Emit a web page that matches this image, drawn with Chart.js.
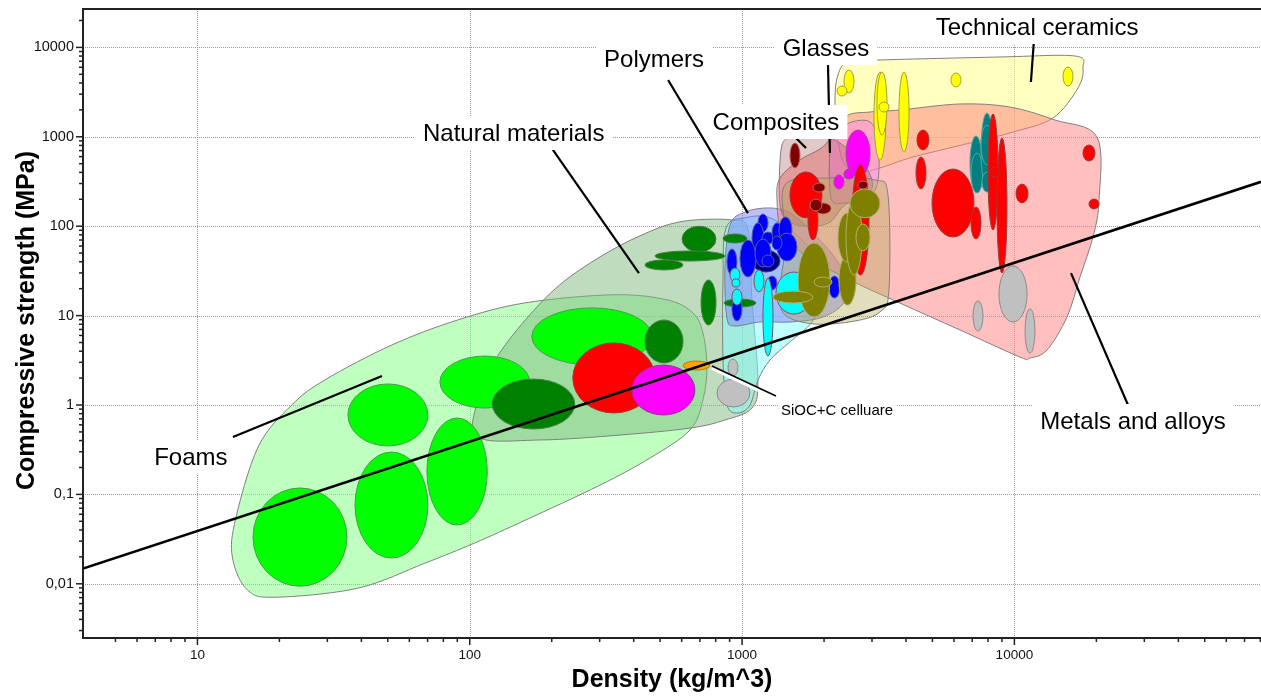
<!DOCTYPE html>
<html>
<head>
<meta charset="utf-8">
<script src="https://cdn.jsdelivr.net/npm/chart.js@4.4.1/dist/chart.umd.min.js"></script>
<style>
  html, body { margin: 0; padding: 0; background: #fff; }
  #wrap { position: relative; width: 1261px; height: 696px; }
</style>
</head>
<body>
<div id="wrap"><canvas id="chart"></canvas></div>
<script>
// ---- axis ticks ----
const xTickValues = [10, 100, 1000, 10000];
const xTickLabels = ['10', '100', '1000', '10000'];
const yTickValues = [0.01, 0.1, 1, 10, 100, 1000, 10000];
const yTickLabels = ['0,01', '0,1', '1', '10', '100', '1000', '10000'];
const xRange = [3.8, 80460];
const yRange = [0.002476, 26880];

// ---- guide line (strength proportional to density) ----
const guideDensity = [3.8, 80460];
const guideStrength = [0.0148, 314];

// ---- family envelopes: [density kg/m^3, compressive strength MPa] ----
const foamsEnvelope = [[13.5,0.0184],[13.7,0.0477],[16.7,0.339],[22.2,1.0],[29.4,1.91],[51.8,4.70],[90.5,8.95],[160,13.9],[336,17.1],[530,15.0],[660,10.7],[718,6.40],[743,2.66],[718,1.14],[644,0.525],[459,0.255],[301,0.127],[160,0.0515],[104,0.0285],[68.4,0.0170],[38.8,0.00893],[19.3,0.00708],[15.3,0.00848]];
const naturalEnvelope = [[107,0.438],[107,1.14],[124,3.19],[160,8.95],[214,22.1],[301,45.4],[422,78.1],[591,112],[903,118],[1052,91.2],[1087,15.0],[1143,1.91],[1087,0.925],[865,0.679],[644,0.552],[356,0.461],[181,0.406]];
const elastomerEnvelope = [[873,95.4],[1025,124],[1266,124],[1632,73.8],[1900,36.8],[1932,14.9],[1806,8.48],[1499,5.07],[1266,3.19],[1144,1.90],[1069,1.0],[966,0.814],[880,1.0],[851,3.19],[851,25.0]];
const polymerEnvelope = [[903,103],[1025,144],[1266,160],[1525,137],[1852,79.7],[2250,39.8],[2449,22.0],[2328,13.1],[1932,9.40],[1499,8.48],[1163,8.48],[942,7.65],[880,9.40],[865,32.4]];
const ceramicEnvelope = [[2250,4912],[2449,6866],[3209,7228],[8853,7808],[16690,8012],[17860,5884],[17120,3514],[13860,1623],[9881,1131],[6869,852],[4242,594],[3209,448],[2710,404],[2387,484],[2250,921],[2194,2580]];
const metalEnvelope = [[1378,346],[1632,550],[2016,809],[2387,1665],[2950,1894],[3801,1994],[6312,2328],[9634,2154],[14100,1541],[20110,995],[20450,196],[19440,75.7],[17410,27.0],[15600,9.64],[13170,4.12],[11410,3.35],[10480,3.44],[6312,6.90],[3801,13.8],[2490,25.0],[1702,47.6],[1401,86.1],[1344,196]];
const glassEnvelope = [[2102,749],[2212,1131],[2533,1464],[2950,1464],[3156,921],[3156,329],[2900,207],[2387,182],[2121,207]];
const roseEnvelope = [[1390,712],[1499,995],[1776,1103],[2194,921],[2710,550],[2999,329],[2900,223],[2387,173],[2102,111],[1776,100.5],[1499,111],[1378,173]];
const compositeEnvelope = [[1437,289],[2102,346],[3077,329],[3434,223],[3463,19.3],[3209,11.0],[2598,8.70],[1852,8.05],[1437,10.2],[1378,19.3],[1449,70.1]];

// ---- material bubbles: [density min, density max, strength min, strength max] ----
const foamBubbles = [[16.0,35.4,0.0094,0.118],[37.9,70.2,0.0194,0.298],[69.6,116,0.0455,0.715],[35.7,70.2,0.348,1.72],[77.7,166,0.925,3.53],[169,467,2.80,12.2]];
const naturalBubbles = [[121,243,0.539,1.95],[440,607,2.95,8.93],[602,802,51.4,100],[479,865,40.8,52.8],[440,607,32.4,41.9],[851,1042,64.9,81.8],[707,802,7.85,25.0],[858,1125,12.5,15.3]];
const metalFoamBubbles = [[239,479,0.814,4.94]];
const glassFoamBubbles = [[394,671,0.773,2.80]];
const siocBubbles = [[607,762,2.46,3.10]];
const greyFoamBubbles = [[809,1069,0.950,1.95],[888,966,2.11,3.27]];
const polymerCoreBubbles = [[1087,1378,30.7,54.2]];
const polymerBubbles = [[1144,1245,86.1,137],[1087,1203,50.1,109],[982,1125,27.0,70.1],[1183,1310,63.2,86.1],[1288,1401,64.9,109],[1366,1525,64.9,127],[1344,1591,40.8,83.9],[1115,1277,35.0,71.9],[1288,1401,54.2,77.7],[1183,1310,35.0,47.6],[880,958,28.4,55.6],[918,999,8.70,16.1],[1234,1344,19.3,27.7],[2085,2288,15.7,27.7]];
const elastomerBubbles = [[1332,1806,10.4,30.7],[1193,1299,3.53,26.3],[1106,1203,18.4,32.4],[903,982,23.8,34.1],[918,982,20.9,25.7],[918,999,13.1,19.8]];
const ceramicBubbles = [[2367,2576,3090,5590],[2232,2428,2860,3700],[3051,3376,550,5306],[3129,3405,1047,5306],[3182,3463,1894,2450],[3769,4102,676,5306],[5851,6367,3606,5171],[15085,16414,3700,6035]];
const glassBubbles = [[2408,2950,355,1191],[2176,2367,261,374],[2367,2576,337,436]];
const tealBubbles = [[6869,7603,254,1021],[6928,7667,235,659],[7541,8345,274,1846],[7541,8345,484,1355],[7603,8274,241,404]];
const metalBubbles = [[1499,1965,124,404],[1746,1900,70.1,196],[2533,2924,28.4,484],[4388,4859,712,1191],[4351,4735,261,594],[4983,7105,75.7,436],[6928,7541,71.9,164],[7998,8708,90.7,1800],[8630,9393,29.9,969],[8136,8853,355,459],[10140,11220,182,296],[17860,19770,536,809],[18790,20450,156,201]];
const compositeBubbles = [[1605,2102,9.64,64.9],[1299,1821,13.8,18.8],[1837,2138,20.9,27.0],[2269,2620,13.1,47.6],[2250,2620,39.8,140],[2408,2756,28.4,196],[2490,3209,124,261],[2620,2950,52.8,106]];
const darkRedBubbles = [[1499,1632,448,852],[1821,2016,241,304],[1852,2121,137,182],[1776,1965,148,201],[2665,2900,261,320]];
const heavyMetalBubbles = [[8778,11130,8.48,35.9],[7047,7667,6.72,14.6],[10940,11900,3.81,11.9]];

// ---- family labels and their pointers ----
const familyNames = ['Foams', 'Natural materials', 'Polymers', 'Glasses', 'Composites', 'Technical ceramics', 'Metals and alloys', 'SiOC+C celluare'];
const labelDensity = [9.46, 145, 475, 2033, 1332, 12110, 27260, 2232];
const labelStrength = [0.262, 1103, 7420, 9847, 1464, 16910, 0.662, 0.879];
const pointerFrom = [[13.5,0.438],[202,712],[535,4318],[2068,6356],[1378,1464],[11800,12100],[16140,29.9],[775,2.73]];
const pointerTo = [[47.6,2.11],[418,29.9],[1051,140],[2102,659],[1717,749],[11500,4102],[26140,1.0],[1332,1.26]];

// drawing styles
const envelopeStyles = [
  [foamsEnvelope, 'rgba(128,255,128,0.5)'],
  [naturalEnvelope, 'rgba(128,185,128,0.5)'],
  [elastomerEnvelope, 'rgba(128,255,255,0.5)'],
  [polymerEnvelope, 'rgba(128,128,255,0.5)'],
  [ceramicEnvelope, 'rgba(255,255,128,0.5)'],
  [metalEnvelope, 'rgba(255,128,128,0.5)'],
  [glassEnvelope, 'rgba(255,128,255,0.4)'],
  [roseEnvelope, 'rgba(150,60,60,0.28)'],
  [compositeEnvelope, 'rgba(180,170,90,0.4)']
];
const bubbleStyles = [
  [foamBubbles, '#00ff00', '#4c9a4c'],
  [naturalBubbles, '#008000', '#4a7a4a'],
  [metalFoamBubbles, '#ff0000', '#9a3a3a'],
  [glassFoamBubbles, '#ff00ff', '#8a3a8a'],
  [siocBubbles, '#ffa500', '#b07a20'],
  [greyFoamBubbles, '#c0c0c0', '#8a8a8a'],
  [polymerCoreBubbles, '#000080', '#404080'],
  [polymerBubbles, '#0000ff', '#5a5aa0'],
  [elastomerBubbles, '#00ffff', '#8a4a5a'],
  [ceramicBubbles, '#ffff00', '#a0a040'],
  [glassBubbles, '#ff00ff', '#9a4a9a'],
  [tealBubbles, '#008080', '#5aa0a0'],
  [metalBubbles, '#ff0000', '#9a3a3a'],
  [compositeBubbles, '#808000', '#b0b070'],
  [darkRedBubbles, '#800000', '#b06a6a'],
  [heavyMetalBubbles, '#c0c0c0', '#8a8a8a']
];

function toPx(chart, d, s) {
  return [chart.scales.x.getPixelForValue(d), chart.scales.y.getPixelForValue(s)];
}

// closed smooth curve through the outline points
function smoothClosedPath(ctx, pts) {
  const n = pts.length;
  ctx.beginPath();
  ctx.moveTo(pts[0][0], pts[0][1]);
  for (let i = 0; i < n; i++) {
    const p0 = pts[(i - 1 + n) % n], p1 = pts[i], p2 = pts[(i + 1) % n], p3 = pts[(i + 2) % n];
    ctx.bezierCurveTo(
      p1[0] + (p2[0] - p0[0]) / 6, p1[1] + (p2[1] - p0[1]) / 6,
      p2[0] - (p3[0] - p1[0]) / 6, p2[1] - (p3[1] - p1[1]) / 6,
      p2[0], p2[1]);
  }
  ctx.closePath();
}

function isNice(v) {
  const e = Math.floor(Math.log10(v) + 1e-9);
  const m = v / Math.pow(10, e);
  return Math.abs(m - Math.round(m)) < 1e-6 ? Math.round(m) : 0;
}

const ashbyPlugin = {
  id: 'ashby',
  beforeDatasetsDraw(chart) {
    const {ctx, chartArea: a} = chart;
    const xs = chart.scales.x, ys = chart.scales.y;
    ctx.save();
    ctx.beginPath();
    ctx.rect(a.left, a.top, a.right - a.left, a.bottom - a.top);
    ctx.clip();
    // dotted grid at the decades
    ctx.strokeStyle = '#9a9a9a';
    ctx.lineWidth = 1;
    ctx.setLineDash([1, 1]);
    xTickValues.forEach(v => {
      const x = Math.round(xs.getPixelForValue(v)) + 0.5;
      ctx.beginPath(); ctx.moveTo(x, a.top); ctx.lineTo(x, a.bottom); ctx.stroke();
    });
    yTickValues.forEach(v => {
      const y = Math.round(ys.getPixelForValue(v)) + 0.5;
      ctx.beginPath(); ctx.moveTo(a.left, y); ctx.lineTo(a.right, y); ctx.stroke();
    });
    ctx.setLineDash([]);
    // envelopes
    envelopeStyles.forEach(([pts, fill]) => {
      smoothClosedPath(ctx, pts.map(p => toPx(chart, p[0], p[1])));
      ctx.fillStyle = fill;
      ctx.fill();
      ctx.strokeStyle = '#7f7f7f';
      ctx.lineWidth = 1;
      ctx.stroke();
    });
    // bubbles
    bubbleStyles.forEach(([list, fill, stroke]) => {
      list.forEach(b => {
        const [x0, y0] = toPx(chart, b[0], b[2]);
        const [x1, y1] = toPx(chart, b[1], b[3]);
        ctx.beginPath();
        ctx.ellipse((x0 + x1) / 2, (y0 + y1) / 2, Math.abs(x1 - x0) / 2, Math.abs(y1 - y0) / 2, 0, 0, Math.PI * 2);
        ctx.fillStyle = fill;
        ctx.fill();
        ctx.strokeStyle = stroke;
        ctx.lineWidth = 1;
        ctx.stroke();
      });
    });
    ctx.restore();
  },
  afterDraw(chart) {
    const {ctx, chartArea: a} = chart;
    const xs = chart.scales.x, ys = chart.scales.y;
    ctx.save();
    // axis lines and top frame
    ctx.strokeStyle = '#222';
    ctx.lineWidth = 2;
    ctx.beginPath();
    ctx.moveTo(a.right, a.top); ctx.lineTo(a.left, a.top);
    ctx.lineTo(a.left, a.bottom); ctx.lineTo(a.right, a.bottom);
    ctx.stroke();
    // tick marks
    ctx.lineWidth = 1.5;
    xs.ticks.forEach(t => {
      const m = isNice(t.value);
      if (!m) return;
      const x = xs.getPixelForValue(t.value);
      ctx.beginPath(); ctx.moveTo(x, a.bottom); ctx.lineTo(x, a.bottom + (m === 1 ? 7 : 4)); ctx.stroke();
    });
    ys.ticks.forEach(t => {
      const m = isNice(t.value);
      if (!m) return;
      const y = ys.getPixelForValue(t.value);
      ctx.beginPath(); ctx.moveTo(a.left, y); ctx.lineTo(a.left - (m === 1 ? 7 : 4), y); ctx.stroke();
    });
    // pointer lines
    pointerFrom.forEach((p, i) => {
      const [x0, y0] = toPx(chart, p[0], p[1]);
      const [x1, y1] = toPx(chart, pointerTo[i][0], pointerTo[i][1]);
      const small = i === familyNames.length - 1;
      if (small) {
        ctx.strokeStyle = '#fff'; ctx.lineWidth = 4;
        ctx.beginPath(); ctx.moveTo(x0, y0 + 2); ctx.lineTo(x1, y1 + 2); ctx.stroke();
      }
      ctx.strokeStyle = '#000';
      ctx.lineWidth = small ? 1.5 : 2.2;
      ctx.beginPath(); ctx.moveTo(x0, y0); ctx.lineTo(x1, y1); ctx.stroke();
    });
    // family labels on white boxes
    ctx.textAlign = 'center';
    ctx.textBaseline = 'middle';
    familyNames.forEach((name, i) => {
      const small = i === familyNames.length - 1;
      ctx.font = (small ? '15px' : '24px') + " 'Liberation Sans', Arial, sans-serif";
      const [x, y] = toPx(chart, labelDensity[i], labelStrength[i]);
      const w = ctx.measureText(name).width + (small ? 6 : 16);
      const h = small ? 18 : 34;
      ctx.fillStyle = '#fff';
      ctx.fillRect(x - w / 2, y - h / 2, w, h);
      ctx.fillStyle = '#000';
      ctx.fillText(name, x, y + 1);
    });
    // axis titles
    ctx.fillStyle = '#000';
    ctx.font = "bold 25px 'Liberation Sans', Arial, sans-serif";
    ctx.fillText('Density (kg/m^3)', (a.left + a.right) / 2, 680);
    ctx.translate(27, (a.top + a.bottom) / 2 - 3);
    ctx.rotate(-Math.PI / 2);
    ctx.fillText('Compressive strength (MPa)', 0, 0);
    ctx.restore();
  }
};

function tickText(values, labels) {
  return function (value) {
    const i = values.findIndex(v => Math.abs(v - value) / v < 1e-6);
    return i >= 0 ? labels[i] : '';
  };
}

// fixed axis boxes so the plot area spans exactly the intended pixels
function fixBox(size, horizontal) {
  return function (scale) {
    if (horizontal) scale.height = size; else scale.width = size;
    scale.paddingLeft = 0; scale.paddingRight = 0;
    scale.paddingTop = 0; scale.paddingBottom = 0;
  };
}

Chart.defaults.font.family = "'Liberation Sans', Arial, sans-serif";
Chart.defaults.color = '#111';

new Chart(document.getElementById('chart'), {
  type: 'scatter',
  data: {
    datasets: [{
      data: guideDensity.map((d, i) => ({x: d, y: guideStrength[i]})),
      showLine: true,
      borderColor: '#000',
      borderWidth: 2.6,
      pointRadius: 0,
      fill: false
    }]
  },
  options: {
    responsive: true,
    maintainAspectRatio: false,
    animation: false,
    events: [],
    layout: {padding: {top: 9, right: 0, left: 0, bottom: 0}},
    plugins: {legend: {display: false}, tooltip: {enabled: false}},
    scales: {
      x: {
        type: 'logarithmic',
        min: xRange[0], max: xRange[1],
        bounds: 'data',
        grid: {display: false, drawTicks: false},
        border: {display: false},
        ticks: {
          autoSkip: false, maxRotation: 0, minRotation: 0, padding: 9,
          font: {size: 13.5}, color: '#111',
          callback: tickText(xTickValues, xTickLabels)
        },
        afterFit: fixBox(58, true)
      },
      y: {
        type: 'logarithmic',
        min: yRange[0], max: yRange[1],
        bounds: 'data',
        grid: {display: false, drawTicks: false},
        border: {display: false},
        ticks: {
          autoSkip: false, padding: 9,
          font: {size: 14.5}, color: '#111',
          callback: tickText(yTickValues, yTickLabels)
        },
        afterFit: fixBox(83, false)
      }
    }
  },
  plugins: [ashbyPlugin]
});
</script>
</body>
</html>
